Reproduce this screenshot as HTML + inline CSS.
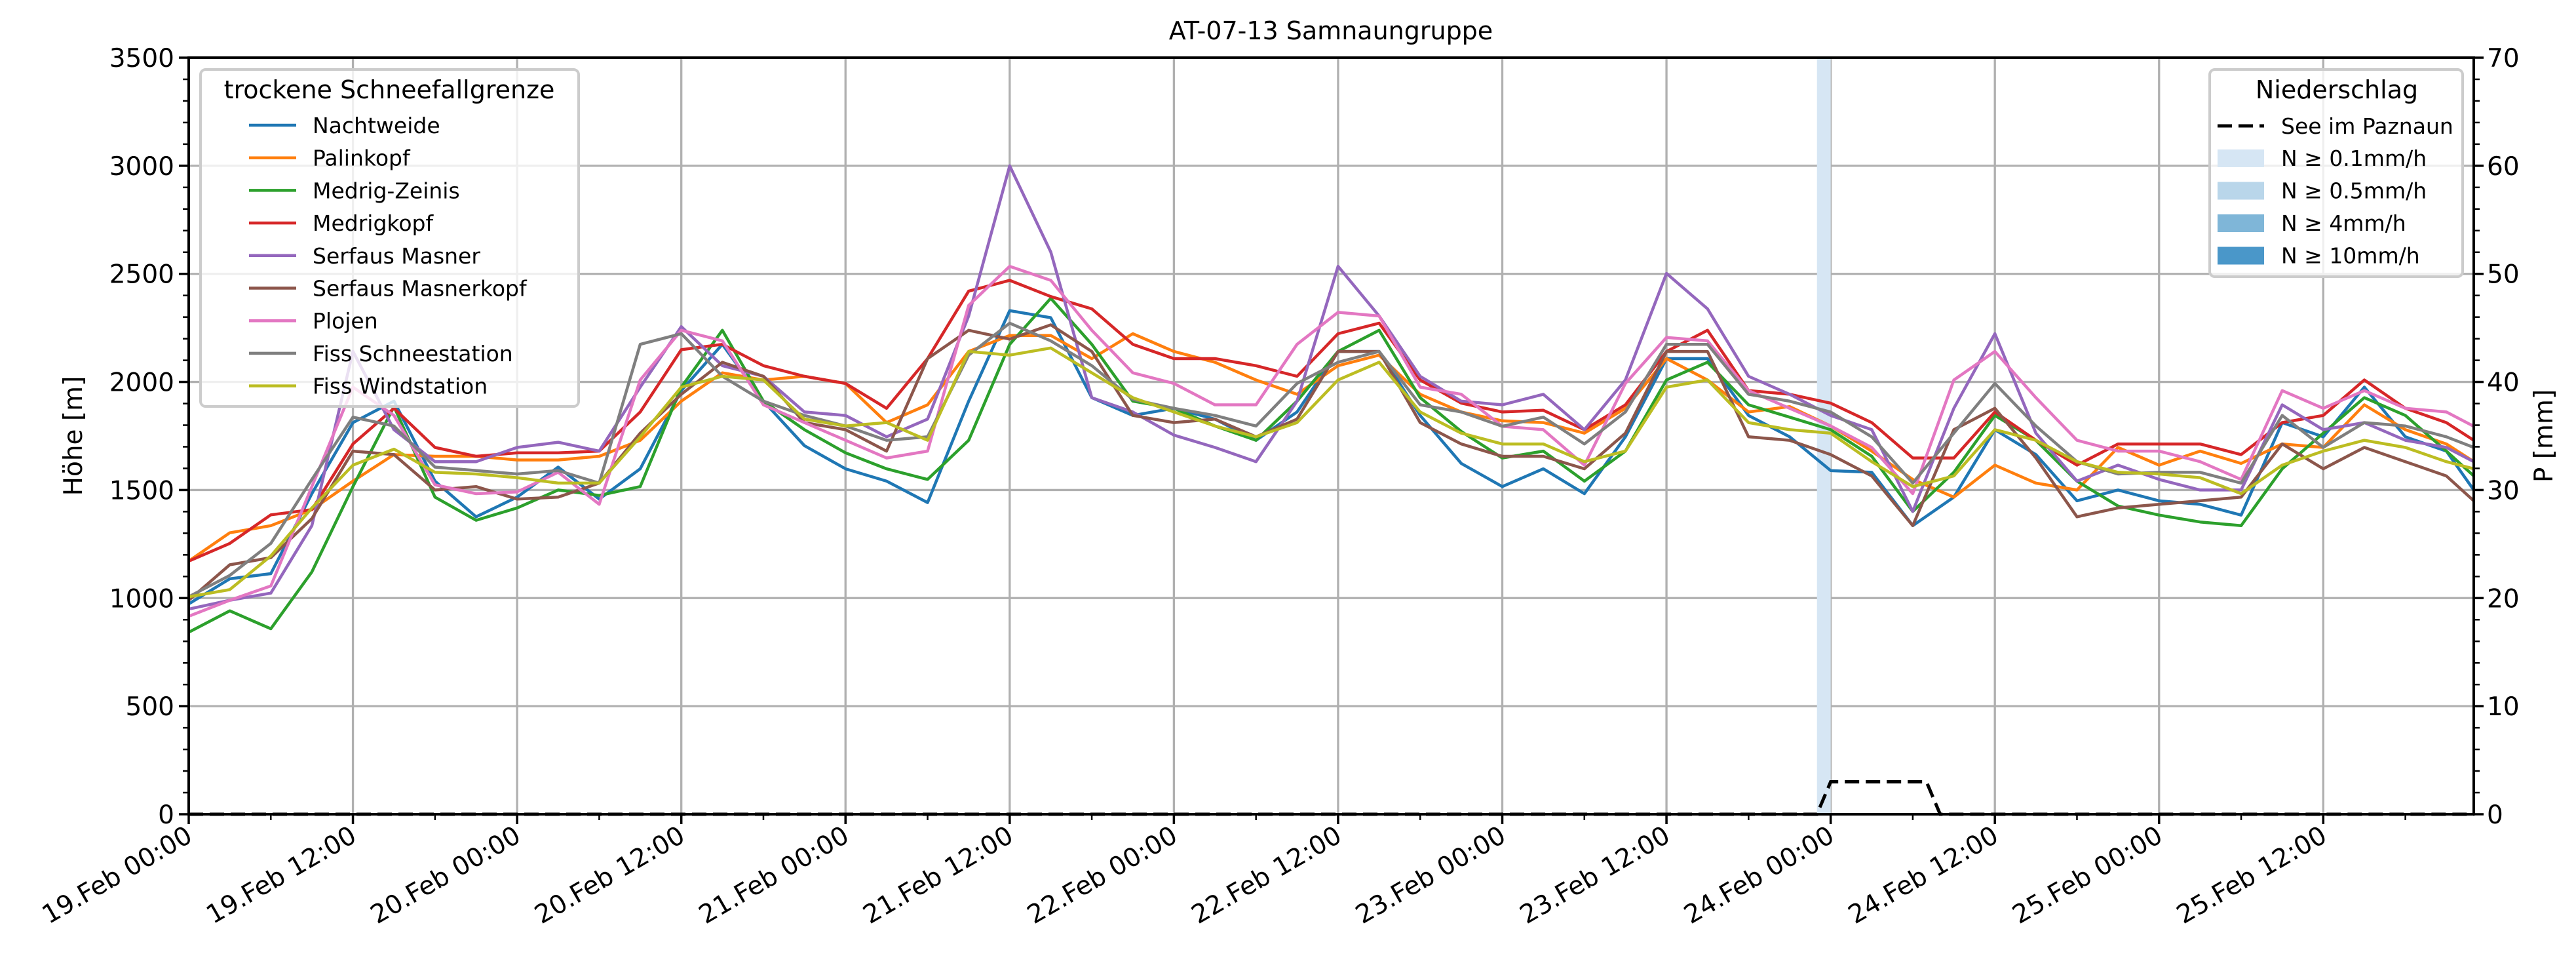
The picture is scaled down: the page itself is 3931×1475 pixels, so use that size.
<!DOCTYPE html>
<html><head><meta charset="utf-8">
<style>
html,body{margin:0;padding:0;background:#fff;}
svg{display:block;font-family:"DejaVu Sans","Liberation Sans",sans-serif;}
</style></head>
<body>
<svg id="chart" xmlns="http://www.w3.org/2000/svg" width="3931" height="1475" viewBox="0 0 3931 1475">
<rect x="0" y="0" width="3931" height="1475" fill="#fff"/>
<text x="2031" y="60" text-anchor="middle" font-size="38">AT-07-13 Samnaungruppe</text>
<g id="grid"></g>
<g id="bars"></g>
<g id="series"></g>
<g id="axes"></g>
<text transform="translate(125,665) rotate(-90)" text-anchor="middle" font-size="39">Höhe [m]</text>
<text transform="translate(3895,665) rotate(-90)" text-anchor="middle" font-size="39">P [mm]</text>
<g id="legend1"></g>
<g id="legend2"></g>
</svg>
<script>
const hours = [0,3,6,9,12,15,18,21,24,27,30,33,36,39,42,45,48,51,54,57,60,63,66,69,72,75,78,81,84,87,90,93,96,99,102,105,108,111,114,117,120,123,126,129,132,135,138,141,144,147,150,153,156,159,162,165,167];
const seriesNames = ["Nachtweide","Palinkopf","Medrig-Zeinis","Medrigkopf","Serfaus Masner","Serfaus Masnerkopf","Plojen","Fiss Schneestation","Fiss Windstation"];
const seriesColors = ["#1f77b4","#ff7f0e","#2ca02c","#d62728","#9467bd","#8c564b","#e377c2","#7f7f7f","#bcbd22"];
const nachtweide = [973,1089,1113,1483,1812,1911,1541,1376,1467,1606,1458,1598,1960,2174,1911,1705,1598,1541,1442,1911,2330,2297,1927,1845,1878,1828,1730,1861,2141,2141,1845,1623,1516,1598,1483,1746,2108,2108,1845,1746,1590,1582,1335,1467,1779,1664,1450,1500,1450,1434,1384,1812,1746,1976,1746,1680,1500];
const palinkopf = [1171,1302,1335,1409,1541,1664,1656,1656,1639,1639,1656,1730,1911,2042,2009,2026,1993,1812,1894,2141,2215,2215,2108,2223,2141,2091,2009,1943,2075,2124,1943,1861,1820,1812,1763,1878,2108,2009,1861,1886,1796,1680,1549,1467,1615,1532,1500,1697,1615,1680,1623,1713,1697,1894,1779,1713,1631];
const medrigZeinis = [842,941,858,1121,1516,1886,1467,1360,1417,1500,1475,1516,1976,2239,1911,1779,1672,1598,1549,1730,2174,2387,2174,1911,1878,1796,1730,1911,2141,2239,1927,1771,1648,1680,1541,1680,2009,2091,1894,1837,1779,1656,1401,1582,1845,1730,1541,1426,1384,1352,1335,1598,1763,1927,1845,1680,1565];
const medrigkopf = [1171,1253,1385,1409,1713,1878,1697,1656,1672,1672,1680,1861,2149,2174,2075,2026,1993,1878,2108,2420,2470,2395,2338,2174,2108,2108,2075,2026,2223,2272,2009,1902,1861,1869,1779,1894,2141,2239,1960,1943,1902,1812,1648,1648,1861,1730,1615,1713,1713,1713,1664,1812,1845,2009,1878,1812,1730];
const serfausMasner = [949,990,1023,1335,2141,1779,1631,1631,1697,1721,1680,1976,2256,2075,2026,1861,1845,1746,1828,2305,3000,2601,1927,1861,1754,1697,1631,1911,2535,2305,2026,1911,1894,1943,1779,2009,2502,2338,2026,1943,1845,1779,1401,1878,2223,1763,1541,1615,1549,1500,1500,1894,1779,1812,1730,1697,1631];
const serfausMasnerkopf = [990,1154,1187,1368,1680,1664,1500,1516,1458,1467,1532,1763,1943,2091,2026,1812,1779,1680,2108,2239,2198,2264,2141,1845,1812,1828,1746,1828,2141,2141,1812,1713,1656,1656,1598,1763,2141,2141,1746,1730,1664,1565,1335,1779,1878,1648,1376,1417,1434,1450,1467,1713,1598,1697,1631,1565,1450];
const plojen = [916,990,1056,1516,1976,1845,1524,1483,1491,1582,1434,2009,2239,2190,1894,1812,1730,1648,1680,2354,2535,2470,2239,2042,1993,1894,1894,2174,2322,2305,1976,1943,1795,1779,1615,1993,2206,2190,1960,1878,1796,1697,1483,2009,2141,1927,1730,1680,1680,1631,1549,1960,1878,1960,1878,1861,1795];
const fissSchnee = [1006,1105,1253,1549,1837,1796,1606,1590,1574,1590,1532,2174,2223,2026,1911,1845,1796,1730,1746,2124,2272,2190,2075,1919,1878,1845,1796,1993,2091,2141,1894,1861,1795,1837,1713,1861,2174,2174,1943,1911,1861,1746,1532,1763,1993,1796,1631,1574,1582,1582,1532,1845,1697,1812,1796,1746,1697];
const fissWind = [1006,1039,1195,1417,1615,1689,1582,1574,1557,1532,1532,1746,1976,2026,2009,1828,1796,1812,1730,2141,2124,2157,2042,1927,1861,1796,1746,1812,2009,2091,1861,1763,1713,1713,1631,1680,1976,2009,1812,1779,1763,1631,1516,1565,1779,1730,1631,1582,1574,1557,1483,1615,1680,1730,1697,1631,1598];
const precipHours = [0,119,120,127,128,167];
const precipValues = [0,0,3,3,0,0];
const barStart = [119];
const barEnd = [120];
const barLevel = [0];
const xTickLabels = ["19.Feb 00:00","19.Feb 12:00","20.Feb 00:00","20.Feb 12:00","21.Feb 00:00","21.Feb 12:00","22.Feb 00:00","22.Feb 12:00","23.Feb 00:00","23.Feb 12:00","24.Feb 00:00","24.Feb 12:00","25.Feb 00:00","25.Feb 12:00"];
const yTicks = [0,500,1000,1500,2000,2500,3000,3500];
const y2Ticks = [0,10,20,30,40,50,60,70];

const allSeries = [nachtweide,palinkopf,medrigZeinis,medrigkopf,serfausMasner,serfausMasnerkopf,plojen,fissSchnee,fissWind];
const L=288,R=3775,T=88,B=1242;
const xHour = h => L + (h/167)*(R-L);
const yM = v => B - v/3500*(B-T);
const yP = v => B - v/70*(B-T);
const NS="http://www.w3.org/2000/svg";
function mk(tag, attrs, parent){const e=document.createElementNS(NS,tag);for(const k in attrs)e.setAttribute(k,attrs[k]);parent.appendChild(e);return e;}
const grid=document.getElementById('grid'), axes=document.getElementById('axes'), bars=document.getElementById('bars'), series=document.getElementById('series');

// grid
for(const v of yTicks){const g=mk('line',{x1:L,x2:R,y1:yM(v),y2:yM(v),stroke:'#b0b0b0','stroke-width':3.3},grid);

}
xTickLabels.forEach((t,i)=>{const x=xHour(i*12);const g=mk('line',{x1:x,x2:x,y1:T,y2:B,stroke:'#b0b0b0','stroke-width':3.3},grid);

});

// bars
barStart.forEach((s,i)=>{const colors=['#d6e6f4','#b9d6ea','#7fb6d8','#4a97c9'];
const r=mk('rect',{x:xHour(s),y:T,width:xHour(barEnd[i])-xHour(s),height:B-T,fill:colors[barLevel[i]]},bars);

});

// series
allSeries.forEach((arr,si)=>{const d=arr.map((v,i)=>(i?'L':'M')+xHour(hours[i]).toFixed(1)+' '+yM(v).toFixed(1)).join(' ');
const p=mk('path',{d:d,fill:'none',stroke:seriesColors[si],'stroke-width':4.5,'stroke-linejoin':'round'},series);

});
{const d=precipHours.map((h,i)=>(i?'L':'M')+xHour(h).toFixed(1)+' '+yP(precipValues[i]).toFixed(1)).join(' ');
const p=mk('path',{d:d,fill:'none',stroke:'#000','stroke-width':5,'stroke-dasharray':'22 10'},series);

}

// axes frame
const fr=mk('rect',{x:L,y:T,width:R-L,height:B-T,fill:'none',stroke:'#000','stroke-width':4},axes);


for(let v=0;v<=3500;v+=100){const maj=v%500===0;mk('line',{x1:L,x2:L-(maj?15:9),y1:yM(v),y2:yM(v),stroke:'#000','stroke-width':maj?3.5:2.5},axes);}
yTicks.forEach(v=>{const t=mk('text',{x:L-22,y:yM(v)+14,'text-anchor':'end','font-size':39},axes);t.textContent=v;

});
for(let v=0;v<=70;v+=2){const maj=v%10===0;mk('line',{x1:R,x2:R+(maj?15:9),y1:yP(v),y2:yP(v),stroke:'#000','stroke-width':maj?3.5:2.5},axes);}
y2Ticks.forEach(v=>{const t=mk('text',{x:R+20,y:yP(v)+14,'text-anchor':'start','font-size':39},axes);t.textContent=v;

});
for(let h=0;h<=167;h+=6){const maj=h%12===0;mk('line',{x1:xHour(h),x2:xHour(h),y1:B,y2:B+(maj?15:9),stroke:'#000','stroke-width':maj?3.5:2.5},axes);}
xTickLabels.forEach((s,i)=>{const x=xHour(i*12);const t=mk('text',{'text-anchor':'end','font-size':39,transform:`translate(${x+8},${B+40}) rotate(-30)`},axes);t.textContent=s;

});

// legend 1
const lg1=document.getElementById('legend1');
mk('rect',{x:306,y:106,width:577,height:514,rx:8,fill:'#fff','fill-opacity':0.8,stroke:'#cccccc','stroke-width':4},lg1);
{const t=mk('text',{x:594,y:150,'text-anchor':'middle','font-size':38},lg1);t.textContent='trockene Schneefallgrenze';

}
seriesNames.forEach((n,i)=>{const y=191+i*49.7;
const ln=mk('line',{x1:380,x2:452,y1:y,y2:y,stroke:seriesColors[i],'stroke-width':4.5},lg1);


const t=mk('text',{x:477,y:y+12,'font-size':33},lg1);t.textContent=n;

});

// legend 2
const lg2=document.getElementById('legend2');
mk('rect',{x:3372,y:106,width:386,height:316,rx:8,fill:'#fff','fill-opacity':0.8,stroke:'#cccccc','stroke-width':4},lg2);
{const t=mk('text',{x:3566,y:150,'text-anchor':'middle','font-size':38},lg2);t.textContent='Niederschlag';

}
{const ln=mk('line',{x1:3384,x2:3455,y1:192,y2:192,stroke:'#000','stroke-width':5,'stroke-dasharray':'22 10'},lg2);


const t=mk('text',{x:3481,y:204,'font-size':33},lg2);t.textContent='See im Paznaun';

}
const pl=['N ≥ 0.1mm/h','N ≥ 0.5mm/h','N ≥ 4mm/h','N ≥ 10mm/h'];const pc=['#d6e6f4','#b9d6ea','#7fb6d8','#4a97c9'];
pl.forEach((s,i)=>{const y=241+i*49.5;
const r=mk('rect',{x:3384,y:y-13,width:71,height:27,fill:pc[i]},lg2);


const t=mk('text',{x:3481,y:y+12,'font-size':33},lg2);t.textContent=s;

});
</script>
</body></html>
